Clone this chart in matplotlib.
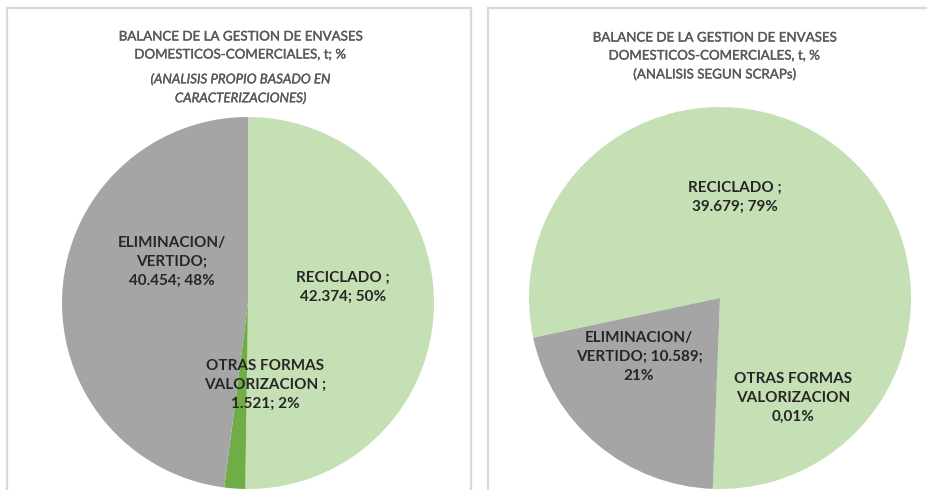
import matplotlib.pyplot as plt
import matplotlib.patheffects as pe
from matplotlib.patches import Rectangle

# data
cats = ['RECICLADO', 'OTRAS FORMAS VALORIZACION', 'ELIMINACION/VERTIDO']
left_vals = [42374, 1521, 40454]
right_vals = [39679, 5, 10589]
colors = ['#C5E0B4', '#70AD47', '#A5A5A5']

left_title = 'BALANCE DE LA GESTION DE ENVASES\nDOMESTICOS-COMERCIALES, t; %'
left_sub = '(ANALISIS PROPIO BASADO EN\nCARACTERIZACIONES)'
right_title = 'BALANCE DE LA GESTION DE ENVASES\nDOMESTICOS-COMERCIALES, t, %\n(ANALISIS SEGUN SCRAPs)'

left_labels = ['RECICLADO ;\n42.374; 50%', 'OTRAS FORMAS\nVALORIZACION ;\n1.521; 2%',
               'ELIMINACION/\nVERTIDO;\n40.454; 48%']
right_labels = ['RECICLADO ;\n39.679; 79%', 'OTRAS FORMAS\nVALORIZACION\n0,01%',
                'ELIMINACION/\nVERTIDO; 10.589;\n21%']

plt.rcParams['font.family'] = ['Lato', 'DejaVu Sans']

W, H = 928, 490
fig = plt.figure(figsize=(W / 100, H / 100), dpi=100)


def fx(x):
    return x / W


def fy(y):
    return 1 - y / H


# panel frames
for x0, x1 in [(7, 471), (488, 940)]:
    fig.patches.append(Rectangle((fx(x0), fy(500)), fx(x1 - x0), (500 - 8) / H,
                                 transform=fig.transFigure, fill=False,
                                 edgecolor='#D9D9D9', linewidth=1.6))


def draw_pie(cx, cy, r, vals, start):
    ax = fig.add_axes([fx(cx - r), fy(cy + r), 2 * r / W, 2 * r / H])
    ax.pie(vals, colors=colors, startangle=start, counterclock=False,
           wedgeprops=dict(linewidth=0))
    ax.set_xlim(-1, 1)
    ax.set_ylim(-1, 1)
    ax.axis('off')
    return ax


draw_pie(248, 303, 186, left_vals, 90)
draw_pie(720, 298, 191, right_vals, 192)

# fake a medium weight for the titles
heavy = [pe.withStroke(linewidth=0.25, foreground='#595959')]
tkw = dict(ha='center', va='center', color='#595959', fontsize=9.6,
           linespacing=1.6, path_effects=heavy)
fig.text(fx(241), fy(45.5), left_title, **tkw)
fig.text(fx(241), fy(88.5), left_sub, style='italic', **tkw)
fig.text(fx(715), fy(56), right_title, **tkw)

lkw = dict(ha='center', va='center', color='#262626', fontsize=11,
           fontweight='bold', linespacing=1.45)
for txt, (x, y) in zip(left_labels, [(343, 287.5), (265, 385), (172, 262)]):
    fig.text(fx(x), fy(y), txt, **lkw)
for txt, (x, y) in zip(right_labels, [(735, 197.5), (793, 398), (639, 357)]):
    fig.text(fx(x), fy(y), txt, **lkw)

fig.savefig('out.png', dpi=100)
